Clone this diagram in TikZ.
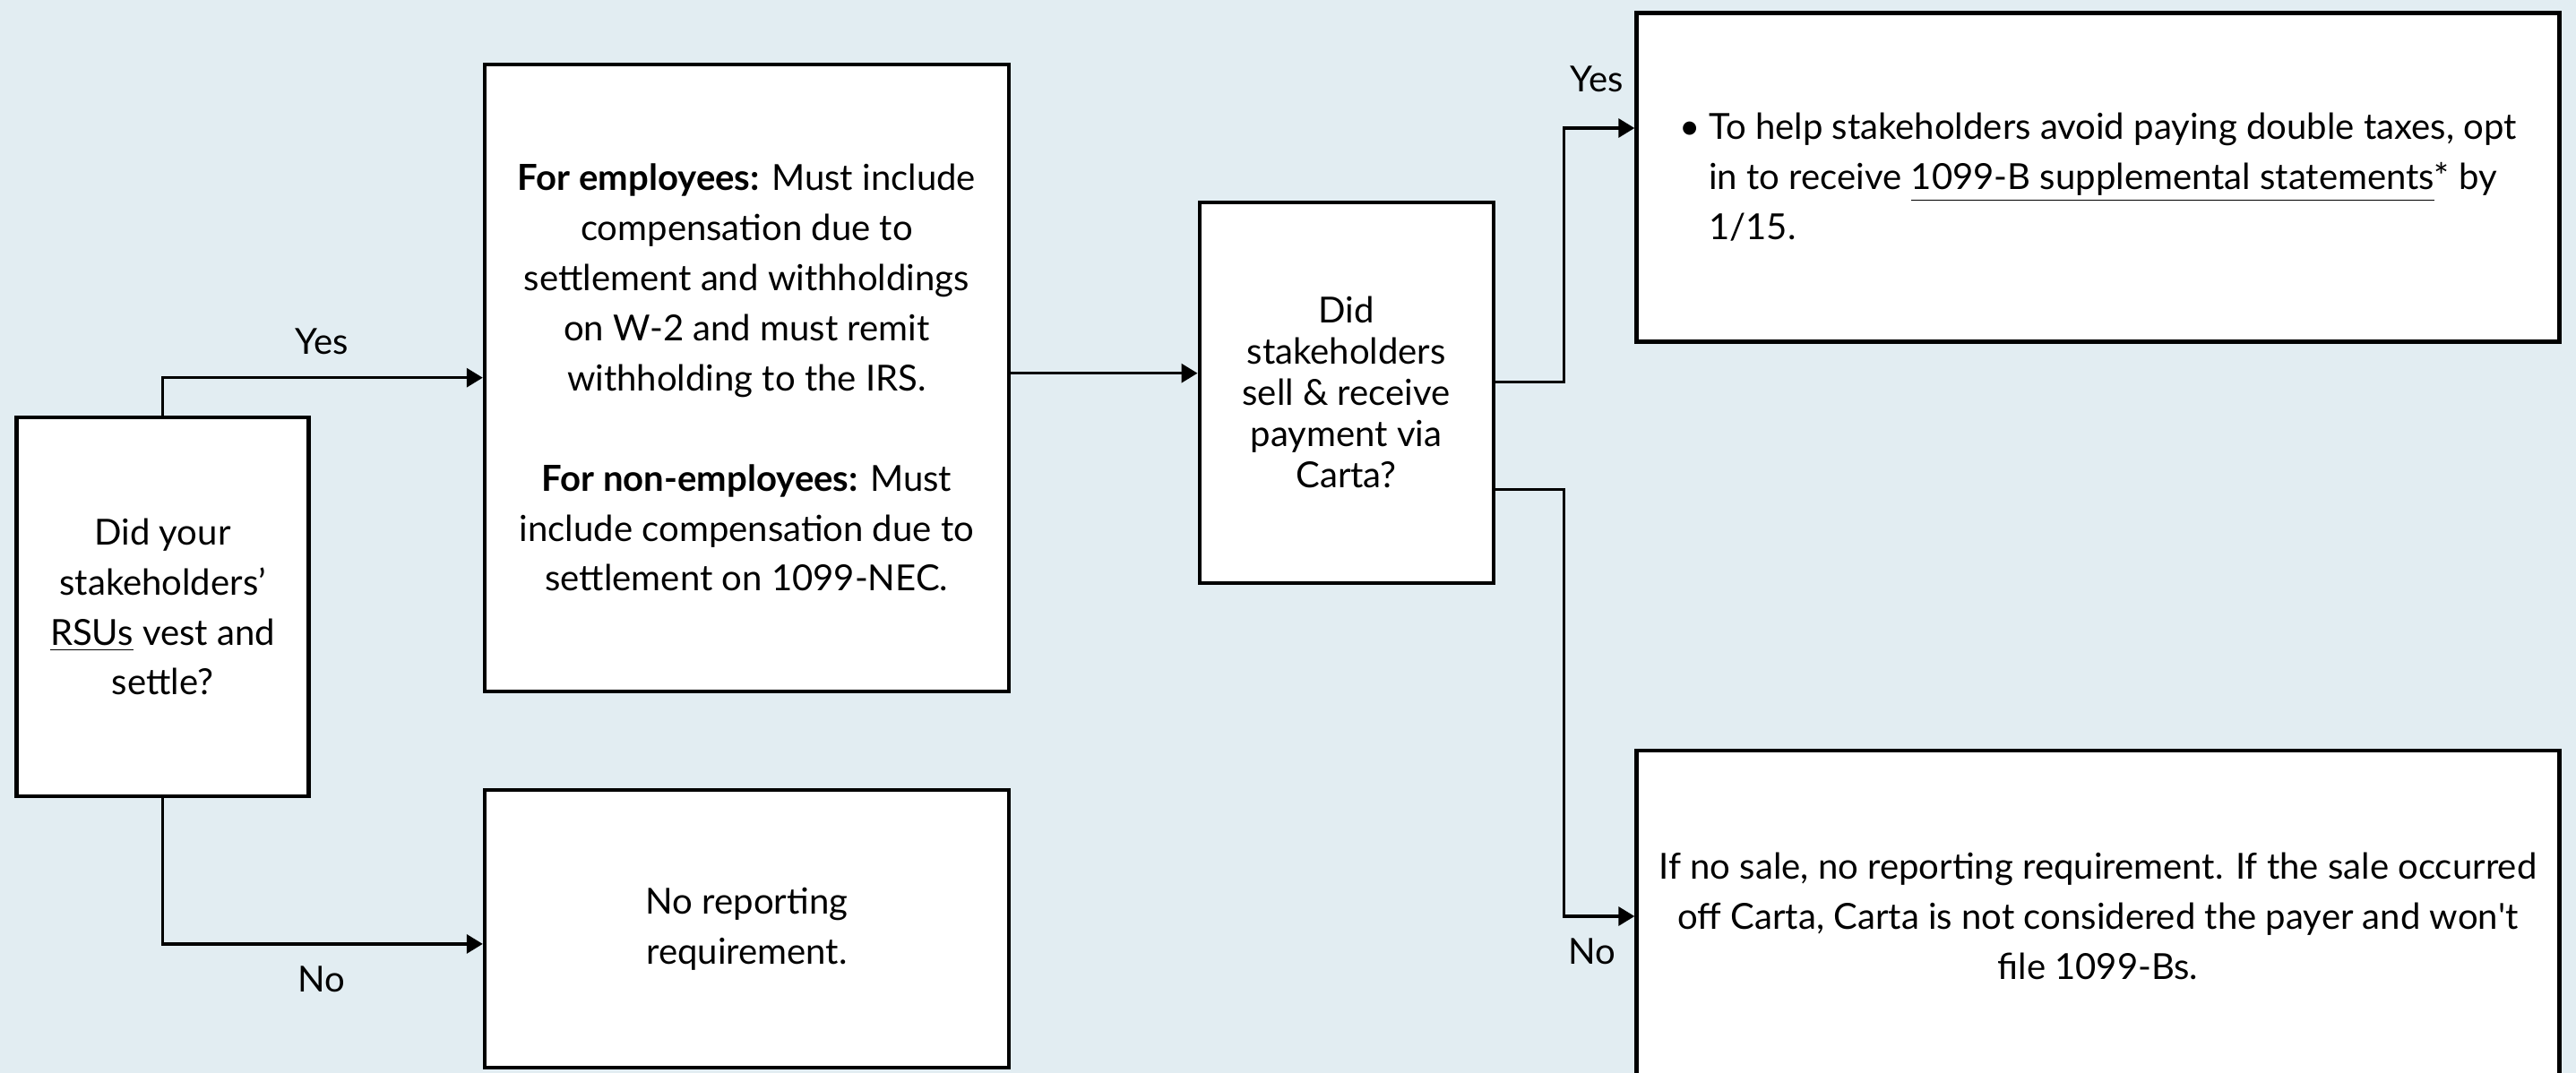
\documentclass[tikz,border=0pt]{standalone}
\usepackage{fontspec}
\setmainfont{Lato}
\usepackage{tikz}
\usetikzlibrary{arrows.meta}
\definecolor{bgblue}{RGB}{226,237,242}

\begin{document}
\begin{tikzpicture}[
  every node/.style={font=\fontsize{11.4}{15.9}\selectfont},
  box/.style={draw, line width=1.2pt, fill=white, align=center, inner sep=0pt},
  flow/.style={line width=0.95pt, -{Triangle[length=0.18cm,width=0.21cm]}}
]
  \fill[bgblue] (0, 0) rectangle (28.75, -11.98);
  \useasboundingbox (0, 0) rectangle (28.75, -11.98);
  % boxes
  \node[box, minimum width=3.26cm, minimum height=4.23cm] (vest) at (1.815, -6.775)
    {Did your\\ stakeholders’\\ \underline{RSUs} vest and\\ settle?};
  \node[box, minimum width=5.85cm, minimum height=7.00cm] (report) at (8.334, -4.217)
    {\textbf{For employees:} Must include\\ compensation due to\\
     settlement and withholdings\\ on W-2 and must remit\\
     withholding to the IRS.\\[15.9pt]
     \textbf{For non-employees:} Must\\ include compensation due to\\
     settlement on 1099-NEC.};
  \node[box, minimum width=5.85cm, minimum height=3.10cm] (noreport) at (8.334, -10.369)
    {No reporting\\ requirement.};
  \node[box, minimum width=3.28cm, minimum height=4.25cm,
        font=\fontsize{11.4}{13.1}\selectfont] (sell) at (15.026, -4.382)
    {Did\\ stakeholders\\ sell \& receive\\ payment via\\ Carta?};
  \node[box, align=left, minimum width=10.30cm, minimum height=3.67cm] (optin) at (23.414, -1.98)
    {\makebox[0.33cm][l]{\textbullet}To help stakeholders avoid paying double taxes, opt\\
     \hspace*{0.33cm}in to receive \underline{1099-B supplemental statements}* by\\
     \hspace*{0.33cm}1/15.};
  \node[box, minimum width=10.30cm, minimum height=3.70cm] (offcarta) at (23.414, -10.23)
    {If no sale, no reporting requirement. If the sale occurred\\
     off Carta, Carta is not considered the payer and won\textquotesingle t\\
     file 1099-Bs.};
  % labels
  \node (yesA) at (3.59, -3.81) {Yes};
  \node (noA) at (3.59, -10.93) {No};
  \node (yesB) at (17.82, -0.88) {Yes};
  \node (noB) at (17.77, -10.62) {No};
  % connectors
  \draw[flow] (vest.north) |- (report.west);
  \draw[flow] (vest.south) |- ([yshift=-0.17cm]noreport.west);
  \draw[flow] ([yshift=0.05cm]report.east) -- ([yshift=0.05cm]report.east -| sell.west);
  \draw[flow] ([yshift=0.12cm]sell.east) -- ++(0.77, 0) |- ([yshift=0.55cm]optin.west);
  \draw[flow] ([yshift=-1.08cm]sell.east) -- ++(0.77, 0) |- (offcarta.west);
\end{tikzpicture}
\end{document}
